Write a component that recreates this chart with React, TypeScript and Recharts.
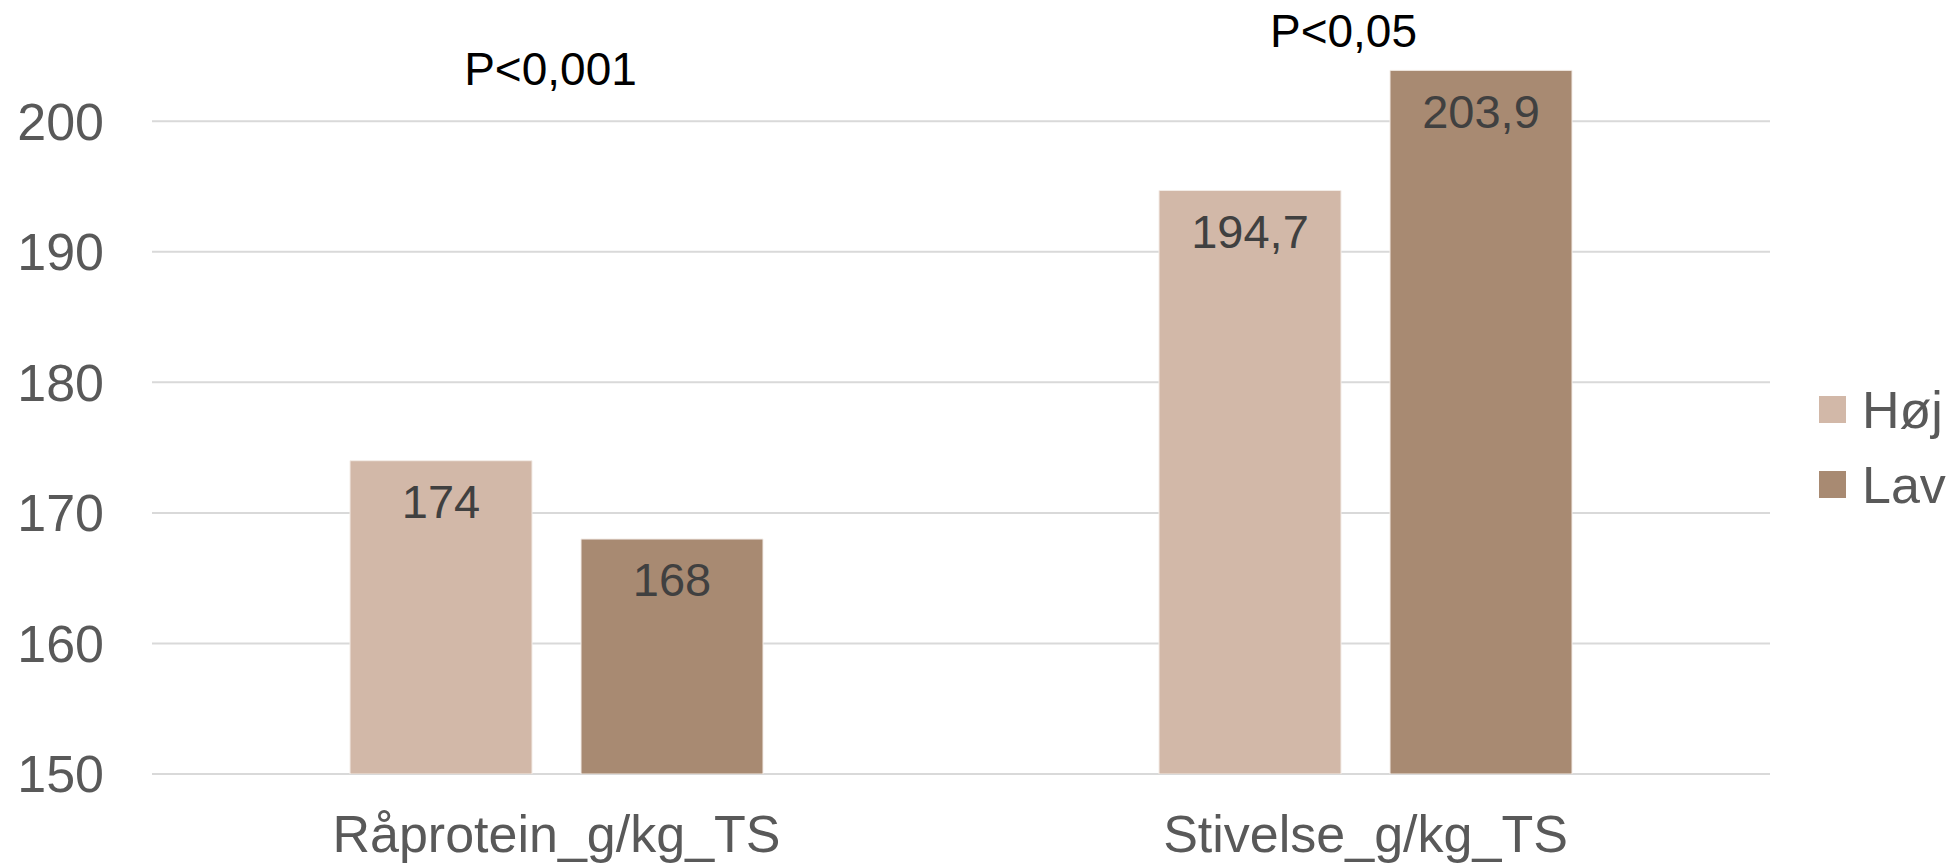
import React from 'react';
import { BarChart, Bar, XAxis, YAxis, CartesianGrid, LabelList, Legend, ReferenceDot } from 'recharts';

const categories = ['Råprotein_g/kg_TS', 'Stivelse_g/kg_TS'];
const hojValues = [174, 194.7];
const lavValues = [168, 203.9];
const seriesNames = ['Høj', 'Lav'];
const seriesColors = ['#D2B8A8', '#A88A72'];
const yTicks = [150, 160, 170, 180, 190, 200];
const annotations = [
  { category: 'Råprotein_g/kg_TS', value: 202.8, text: 'P<0,001', dx: -6 },
  { category: 'Stivelse_g/kg_TS', value: 205.7, text: 'P<0,05', dx: -22 },
];

const data = categories.map((c, i) => ({ name: c, hoj: hojValues[i], lav: lavValues[i] }));

const FONT = '"Liberation Sans", Arial, sans-serif';

const fmt = (v: any) => String(v).replace('.', ',');

const renderLegend = () => (
  <div style={{ fontFamily: FONT, fontSize: 52, color: '#595959' }}>
    {seriesNames.map((n, i) => (
      <div key={n} style={{ display: 'flex', alignItems: 'center', height: 75 }}>
        <span style={{ display: 'inline-block', width: 27, height: 27, background: seriesColors[i], marginRight: 16 }} />
        <span style={{ lineHeight: '52px' }}>{n}</span>
      </div>
    ))}
  </div>
);

const makeAnnotation = (text: string, dx: number) => (props: any) => {
  const vb = props.viewBox || {};
  const cx = vb.x + (vb.width || 0) / 2;
  const cy = vb.y + (vb.height || 0) / 2;
  return (
    <text x={cx + dx} y={cy} textAnchor="middle" fontFamily={FONT} fontSize={46} fill="#000000">
      {text}
    </text>
  );
};

const gridGenerator = (props: any) => {
  const axis = props && props.yAxis;
  const scale = axis && axis.scale;
  if (scale && typeof scale === 'function') {
    return yTicks.map((t) => scale(t));
  }
  if (scale && typeof scale.map === 'function') {
    return yTicks.map((t) => scale.map(t));
  }
  return [];
};

export default function App() {
  return (
    <div style={{ position: 'absolute', left: 0, top: 0 }}>
      <BarChart
        width={1952}
        height={867}
        data={data}
        margin={{ top: 56, right: 182, bottom: 33, left: 0 }}
        barGap={49}
        barSize={182}
      >
        <CartesianGrid
          vertical={false}
          stroke="#D9D9D9"
          strokeWidth={2}
          horizontalCoordinatesGenerator={gridGenerator}
        />
        <XAxis
          dataKey="name"
          axisLine={false}
          tickLine={false}
          tickSize={0}
          tickMargin={41}
          height={60}
          interval={0}
          tick={{ fontSize: 52, fill: '#595959', fontFamily: FONT }}
        />
        <YAxis
          domain={[150, 205]}
          ticks={yTicks}
          allowDataOverflow
          axisLine={false}
          tickLine={false}
          tickSize={0}
          tickMargin={48}
          width={152}
          tick={{ fontSize: 52, fill: '#595959', fontFamily: FONT }}
        />
        <Legend
          layout="vertical"
          align="center"
          verticalAlign="middle"
          content={renderLegend}
          wrapperStyle={{ left: 1819, top: 372, width: 133, height: 150 }}
        />
        <Bar dataKey="hoj" name={seriesNames[0]} fill={seriesColors[0]} stroke="#F3ECE7" strokeWidth={1} isAnimationActive={false}>
          <LabelList dataKey="hoj" position="insideTop" offset={24} formatter={fmt} fill="#404040" fontSize={47} fontFamily={FONT} />
        </Bar>
        <Bar dataKey="lav" name={seriesNames[1]} fill={seriesColors[1]} stroke="#F3ECE7" strokeWidth={1} isAnimationActive={false}>
          <LabelList dataKey="lav" position="insideTop" offset={24} formatter={fmt} fill="#404040" fontSize={47} fontFamily={FONT} />
        </Bar>
        {annotations.map((a) => (
          <ReferenceDot
            key={a.text}
            x={a.category}
            y={a.value}
            r={1}
            fill="none"
            stroke="none"
            ifOverflow="visible"
            label={{ content: makeAnnotation(a.text, a.dx) }}
          />
        ))}
      </BarChart>
    </div>
  );
}
